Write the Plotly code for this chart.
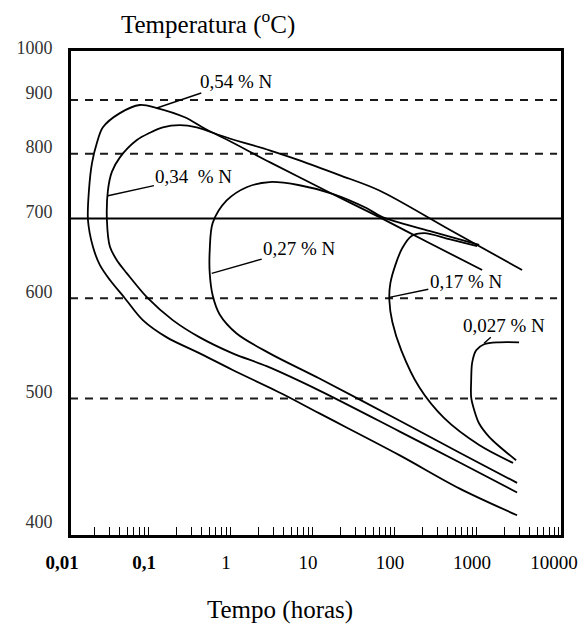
import math
import plotly.graph_objects as go

# ---- data: time (hours) and temperature (°C) along each curve ----
t_054 = [3259, 421.5, 59.3, 19.3, 6.3, 2.72, 0.535, 0.251, 0.1145, 0.0711, 0.0406, 0.0252, 0.0213,
         0.01852, 0.01702, 0.01656, 0.01905, 0.02318, 0.0307, 0.0467, 0.0773, 0.1516, 0.382, 0.963,
         3.91, 11.03, 103.8, 557.8, 2832]
T_054 = [633, 685, 741, 765, 789, 806, 838, 866, 884, 890, 874, 847, 819,
         784, 741, 698, 662, 639, 621, 600, 576, 558, 542, 526,
         504, 487, 453, 428, 409]

t_034 = [1062, 240.6, 59.3, 14.6, 2.72, 0.55, 0.351, 0.218, 0.1354, 0.0941, 0.0654, 0.0406, 0.0324,
         0.029, 0.0282, 0.0307, 0.0384, 0.0494, 0.089, 0.179, 0.382, 0.963, 2.5, 11.03, 103.8, 557.8, 2832]
T_034 = [633, 667, 702, 738, 786, 837, 847, 851, 847, 837, 824, 794, 770,
         741, 698, 662, 643, 629, 600, 576, 558, 542, 529.6, 507, 472, 447.5, 425]

t_027 = [976.5, 240.6, 64.5, 41.2, 15.9, 6.3, 2.72, 1.426, 0.814, 0.55, 0.506, 0.506, 0.55, 0.669,
         1.077, 2.72, 11.03, 103.8, 557.8, 2832]
T_027 = [664.5, 683, 702, 715, 736, 749, 754, 746, 726, 694, 658, 629, 603, 582,
         562, 542, 518, 481, 455, 432]

t_017 = [923, 421.5, 209, 145, 112.9, 92.8, 80.6, 78.4, 85.3, 109.7, 181.8, 366, 976.5, 2532]
T_017 = [663, 672, 680, 676, 660.5, 639, 617, 598, 574, 545, 510, 483, 461, 447]

t_0027 = [2996, 1711, 1123, 898, 802.6, 780.5, 780.5, 849, 976.5, 1292, 1711, 2754]
T_0027 = [553, 553, 551, 545, 533, 516, 501, 490, 478.5, 467.5, 460, 449]

curve_labels = ["0,54 % N", "0,34  % N", "0,27 % N", "0,17 % N", "0,027 % N"]
label_anchor_t = [0.1145, 0.029, 0.535, 78.4, 1123]
label_anchor_T = [884, 733, 629, 601, 552]

x_tick_vals = [0.01, 0.1, 1, 10, 100, 1000, 10000]
x_tick_text = ["<b>0,01</b>", "<b>0,1</b>", "1", "10", "100", "1000", "10000"]
y_tick_vals = [400, 500, 600, 700, 800, 900, 1000]
y_tick_text = ["400", "500", "600", "700", "800", "900", "1000"]
dashed_T = [500, 600, 800, 900]
solid_T = [700]


def tr(T):
    """Temperature axis is reciprocal absolute temperature."""
    return 1.0 / (T + 273.0)


FONT = "Liberation Serif"

fig = go.Figure()
for tt, TT in [(t_054, T_054), (t_034, T_034), (t_027, T_027), (t_017, T_017), (t_0027, T_0027)]:
    fig.add_trace(go.Scatter(
        x=tt, y=[tr(v) for v in TT], mode="lines",
        line=dict(color="black", width=1.8, shape="spline", smoothing=0.9),
        showlegend=False, hoverinfo="skip"))

shapes = []
for T in dashed_T:
    shapes.append(dict(type="line", xref="paper", x0=0, x1=0.99, yref="y", y0=tr(T), y1=tr(T),
                       line=dict(color="#1a1a1a", width=2, dash="8px,7px"), layer="below"))
for T in solid_T:
    shapes.append(dict(type="line", xref="paper", x0=0, x1=1, yref="y", y0=tr(T), y1=tr(T),
                       line=dict(color="black", width=2), layer="below"))
# plot frame
shapes.append(dict(type="rect", xref="paper", yref="paper", x0=0, x1=1, y0=0, y1=1,
                   line=dict(color="black", width=2), fillcolor="rgba(0,0,0,0)", layer="above"))

offsets = [(80, -27), (86, -19), (88, -25), (77, -16), (20, -18)]
annotations = []
for lab, at, aT, (ax, ay) in zip(curve_labels, label_anchor_t, label_anchor_T, offsets):
    annotations.append(dict(x=math.log10(at), y=tr(aT), xref="x", yref="y", text=lab,
                            showarrow=True, arrowhead=0, arrowwidth=1.4, arrowcolor="black",
                            ax=ax, ay=ay, standoff=0,
                            font=dict(family=FONT, size=19, color="black")))

annotations.append(dict(text="Temperatura (<sup>o</sup>C)", xref="paper", yref="paper",
                        x=0.28, y=(536 - 22) / 486, xanchor="center", yanchor="middle",
                        showarrow=False, font=dict(family=FONT, size=25, color="black")))
annotations.append(dict(text="Tempo (horas)", xref="paper", yref="paper",
                        x=0.426, y=-(610 - 536) / 486, xanchor="center", yanchor="middle",
                        showarrow=False, font=dict(family=FONT, size=25, color="black")))

minor_vals = [k * 10 ** d for d in range(-2, 4) for k in range(2, 10)]

fig.update_layout(
    width=583, height=625,
    margin=dict(l=70, r=21, t=50, b=89),
    paper_bgcolor="white", plot_bgcolor="white",
    shapes=shapes, annotations=annotations,
    xaxis=dict(type="log", range=[-2, 4], showgrid=False, zeroline=False, automargin=False,
               showline=True, mirror=True, linecolor="black", linewidth=2,
               tickvals=x_tick_vals, ticktext=x_tick_text, ticks="",
               ticklabelstandoff=8, ticklabelshift=-8,
               tickfont=dict(family=FONT, size=19, color="black"),
               minor=dict(ticks="inside", ticklen=9, tickwidth=1.2, tickcolor="black",
                          tickvals=minor_vals, showgrid=False)),
    yaxis=dict(range=[tr(395), tr(1011.5)], showgrid=False, zeroline=False, automargin=False,
               showline=True, mirror=True, linecolor="black", linewidth=2,
               tickvals=[tr(v) for v in y_tick_vals], ticktext=y_tick_text, ticks="",
               ticklabelstandoff=12, ticklabelshift=7,
               tickfont=dict(family=FONT, size=18, color="#333333")),
)

fig.write_html("out.html")
